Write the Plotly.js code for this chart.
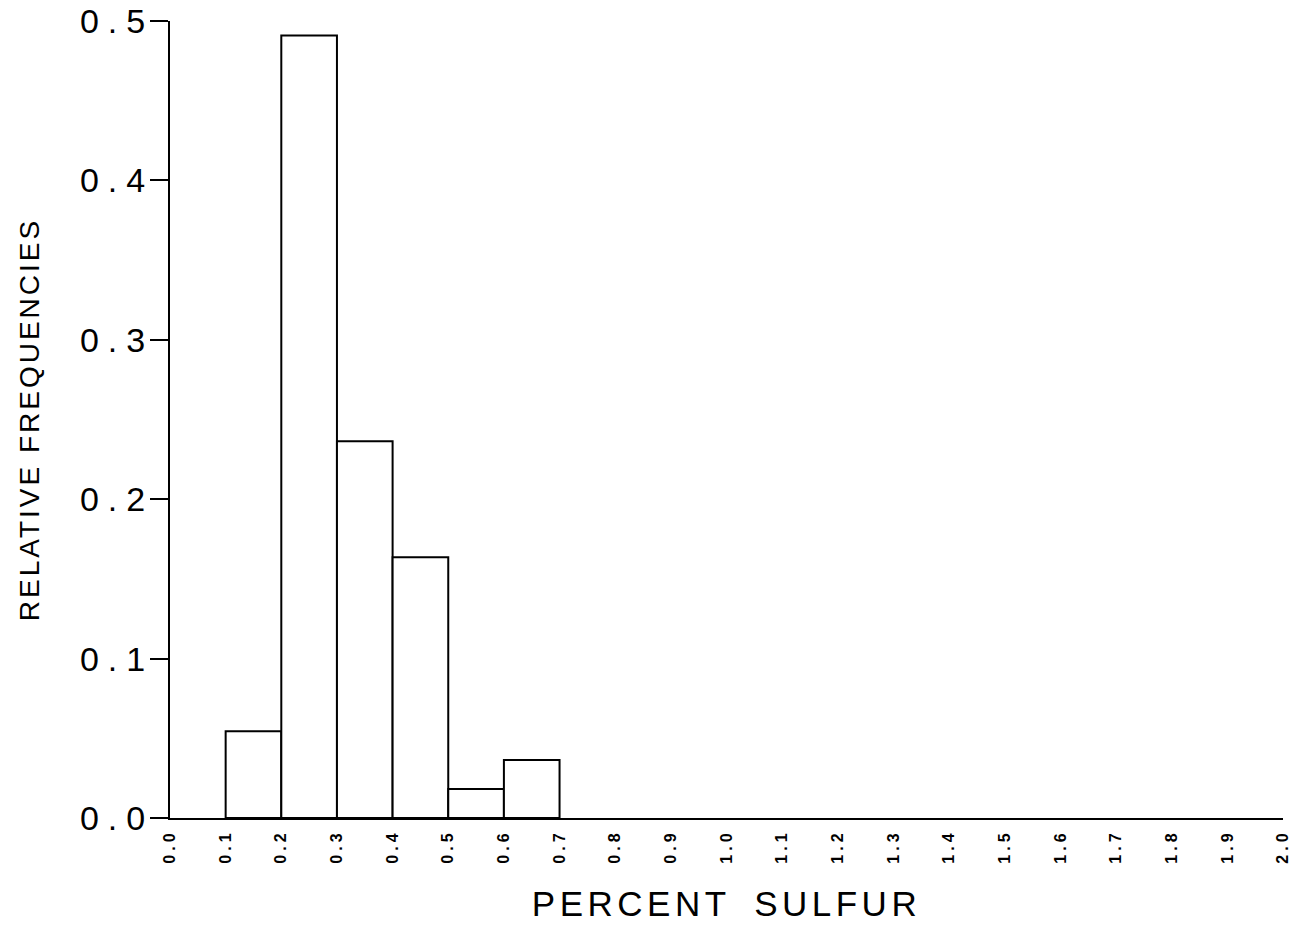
<!DOCTYPE html>
<html>
<head>
<meta charset="utf-8">
<script src="https://cdn.plot.ly/plotly-3.0.1.min.js"></script>
<style>
  html, body { margin: 0; padding: 0; background: #fff; }
  #chart { width: 1294px; height: 925px; }
  .ytick text { letter-spacing: 9px; }
  .xtick text { letter-spacing: 4px; }
  .xtitle { letter-spacing: 4.5px; word-spacing: 10px; }
  .ytitle { letter-spacing: 3px; }
</style>
</head>
<body>
<div id="chart"></div>
<script>
// Histogram bins (percent sulfur) and relative frequencies
const binStart = [0.1, 0.2, 0.3, 0.4, 0.5, 0.6];
const binEnd   = [0.2, 0.3, 0.4, 0.5, 0.6, 0.7];
const relFreq  = [0.0545, 0.4909, 0.2364, 0.1636, 0.0182, 0.0364];

const xCenters = binStart.map((s, i) => (s + binEnd[i]) / 2);
const widths = binStart.map((s, i) => binEnd[i] - s);

const trace = {
  type: 'bar',
  x: xCenters,
  y: relFreq,
  width: widths,
  marker: { color: '#ffffff', line: { color: '#000000', width: 2 } },
  hoverinfo: 'x+y'
};

const layout = {
  width: 1294,
  height: 925,
  margin: { l: 170, r: 11, t: 21, b: 107 },
  paper_bgcolor: '#ffffff',
  plot_bgcolor: '#ffffff',
  showlegend: false,
  font: { family: 'Liberation Sans, Arial, sans-serif', color: '#000' },
  xaxis: {
    range: [0, 2.0],
    dtick: 0.1,
    tick0: 0,
    tickformat: '.1f',
    tickangle: -90,
    ticks: '',
    ticklabelstandoff: 3,
    showgrid: false,
    zeroline: false,
    showline: true,
    linecolor: '#000',
    linewidth: 2,
    tickfont: { size: 16, weight: 'bold', family: 'Liberation Sans, Arial, sans-serif' },
    title: { text: 'PERCENT SULFUR', font: { size: 35 }, standoff: 29 },
    fixedrange: true
  },
  yaxis: {
    range: [0, 0.5],
    dtick: 0.1,
    tick0: 0,
    tickformat: '.1f',
    ticks: 'outside',
    ticklen: 18,
    tickwidth: 2,
    tickcolor: '#000',
    ticklabelstandoff: -11,
    showgrid: false,
    zeroline: false,
    showline: true,
    linecolor: '#000',
    linewidth: 2,
    tickfont: { size: 34 },
    title: { text: 'RELATIVE FREQUENCIES', font: { size: 28 }, standoff: 32 },
    fixedrange: true
  }
};

Plotly.newPlot('chart', [trace], layout, { displayModeBar: false, staticPlot: true });
</script>
</body>
</html>
